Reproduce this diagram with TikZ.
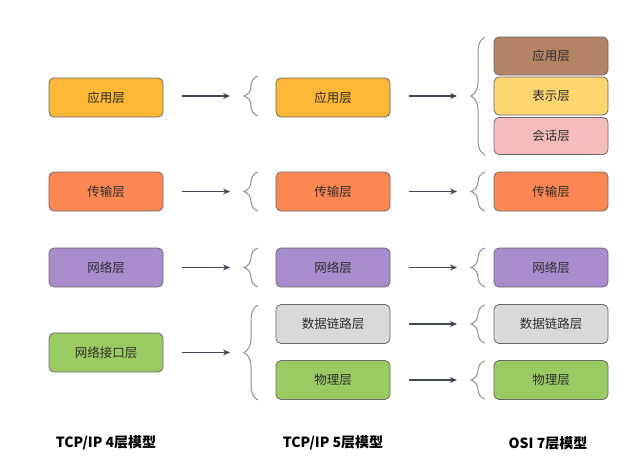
\documentclass[tikz,border=0pt]{standalone}
\usepackage{fontspec}
\newfontfamily\cjk{Noto Sans CJK SC}
\usetikzlibrary{decorations.pathreplacing,arrows.meta}
\definecolor{appc}{HTML}{FBB735}
\definecolor{transc}{HTML}{FD8752}
\definecolor{netc}{HTML}{A78CCE}
\definecolor{linkc}{HTML}{D9D9D9}
\definecolor{physc}{HTML}{9ACB62}
\definecolor{brownc}{HTML}{B48467}
\definecolor{presc}{HTML}{FDD670}
\definecolor{sessc}{HTML}{F6BCBD}
\definecolor{borderc}{HTML}{6A6A6A}
\definecolor{textc}{HTML}{2E2E2E}
\definecolor{arrowc}{HTML}{3D4955}
\definecolor{bracec}{HTML}{8A9199}
\begin{document}
\begin{tikzpicture}[x=1pt,y=-1pt,
  layer/.style={draw=borderc, line width=0.8pt, rounded corners=5pt,
    minimum width=114pt, minimum height=39pt, inner sep=0pt,
    font=\cjk\fontsize{12.5}{14}\selectfont, text=textc},
  arr/.style={-{Stealth[length=7pt,width=6pt]}, line width=1.2pt, draw=arrowc},
  brc/.style={draw=bracec, line width=1pt, decorate,
    decoration={brace, amplitude=14pt, aspect=0.5}},
  caption/.style={font=\cjk\bfseries\fontsize{14}{16}\selectfont, text=black}]
\useasboundingbox (0,0) rectangle (631,458);

% column 1
\node[layer, fill=appc]   (a1) at (106,97.5)  {应用层};
\node[layer, fill=transc] (a2) at (106,191.5) {传输层};
\node[layer, fill=netc]   (a3) at (106,267.5) {网络层};
\node[layer, fill=physc]  (a4) at (106,352.5) {网络接口层};

% column 2
\node[layer, fill=appc]   (b1) at (333,97.5)  {应用层};
\node[layer, fill=transc] (b2) at (333,191.5) {传输层};
\node[layer, fill=netc]   (b3) at (333,267.5) {网络层};
\node[layer, fill=linkc]  (b4) at (333,324)   {数据链路层};
\node[layer, fill=physc]  (b5) at (333,380)   {物理层};

% column 3
\node[layer, fill=brownc, minimum height=38pt] (c1) at (551,56)  {应用层};
\node[layer, fill=presc,  minimum height=38pt] (c2) at (551,96)  {表示层};
\node[layer, fill=sessc,  minimum height=37pt] (c3) at (551,136) {会话层};
\node[layer, fill=transc] (c4) at (551,191.5) {传输层};
\node[layer, fill=netc]   (c5) at (551,267.5) {网络层};
\node[layer, fill=linkc]  (c6) at (551,324)   {数据链路层};
\node[layer, fill=physc]  (c7) at (551,380)   {物理层};

% braces column 2
\draw[brc] (258,116) -- (258,76);
\coordinate (tb1) at (244,96);
\draw[brc] (258,211) -- (258,172);
\coordinate (tb2) at (244,191.5);
\draw[brc] (258,287) -- (258,248);
\coordinate (tb3) at (244,267.5);
\draw[brc] (258,400) -- (258,305);
\coordinate (tb4) at (243,352.5);

% braces column 3
\draw[brc] (485,155) -- (485,37);
\coordinate (tc1) at (471,96);
\draw[brc] (485,211) -- (485,172);
\coordinate (tc4) at (471,191.5);
\draw[brc] (485,287) -- (485,248);
\coordinate (tc5) at (471,267.5);
\draw[brc] (485,343) -- (485,305);
\coordinate (tc6) at (471,324);
\draw[brc] (485,399) -- (485,361);
\coordinate (tc7) at (471,380);

% arrows column 1 -> column 2
\draw[arr, shorten <=19pt, shorten >=14pt] (a1.east |- tb1) -- (tb1);
\draw[arr, shorten <=19pt, shorten >=14pt] (a2.east) -- (tb2);
\draw[arr, shorten <=19pt, shorten >=14pt] (a3.east) -- (tb3);
\draw[arr, shorten <=19pt, shorten >=13pt] (a4.east) -- (tb4);

% arrows column 2 -> column 3
\draw[arr, shorten <=19pt, shorten >=14pt] (b1.east |- tc1) -- (tc1);
\draw[arr, shorten <=19pt, shorten >=14pt] (b2.east) -- (tc4);
\draw[arr, shorten <=19pt, shorten >=14pt] (b3.east) -- (tc5);
\draw[arr, shorten <=19pt, shorten >=14pt] (b4.east) -- (tc6);
\draw[arr, shorten <=19pt, shorten >=14pt] (b5.east) -- (tc7);

% captions
\node[caption] (l1) at (106,443) {TCP/IP 4层模型};
\node[caption] (l2) at (333,443) {TCP/IP 5层模型};
\node[caption] (l3) at (548,443) {OSI 7层模型};
\end{tikzpicture}
\end{document}
